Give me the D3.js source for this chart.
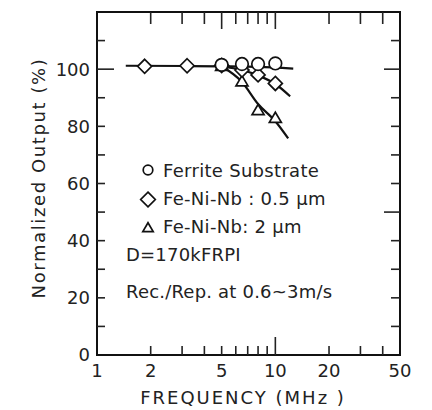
<!DOCTYPE html>
<html>
<head>
<meta charset="utf-8">
<script src="https://cdn.jsdelivr.net/npm/d3@7"></script>
<style>
	body { margin: 0; background: #fff; }
	svg { display: block; }
	.txt { font-family: "DejaVu Sans", sans-serif; fill: #222; }
</style>
</head>
<body>
<svg id="chart"></svg>
<script>
// values
const ferriteFreq = [5, 6.5, 8, 10];
const ferriteOut = [101.5, 101.8, 101.8, 102];
const thinFreq = [1.85, 3.2, 5, 6.5, 8, 10];
const thinOut = [101, 101.2, 101.3, 99.7, 98, 95];
const thickFreq = [5, 6.5, 8, 10];
const thickOut = [101, 95.6, 85.5, 82.8];

// hand drawn curves through the points
const ferriteFitFreq = [1.45, 3.2, 5, 8, 12.6];
const ferriteFitOut = [101.2, 101.1, 101, 100.8, 100.2];
const thinFitFreq = [5, 6.5, 8, 10, 12.1];
const thinFitOut = [101, 99.7, 97.8, 94.8, 90.5];
const thickFitFreq = [5, 6.5, 8, 10, 11.8];
const thickFitOut = [101, 95.5, 87.8, 81.8, 75.8];

const xTicks = [2, 3, 4, 5, 6, 7, 8, 9, 10, 20, 30, 40];
const xLabels = [1, 2, 5, 10, 20, 50];
const yTicks = [10, 20, 30, 40, 50, 60, 70, 80, 90, 100, 110];
const yLabels = [0, 20, 40, 60, 80, 100];

const legendRows = [
	{ mark: "circle", text: "Ferrite Substrate" },
	{ mark: "diamond", text: "Fe-Ni-Nb : 0.5 μm" },
	{ mark: "triangle", text: "Fe-Ni-Nb: 2 μm" }
];
const notes = ["D=170kFRPI", "Rec./Rep. at 0.6~3m/s"];

const width = 432;
const height = 410;
const plotL = 97, plotR = 400, plotT = 12, plotB = 355;

const x = d3.scaleLog().domain([1, 50]).range([plotL, plotR]);
const y = d3.scaleLinear().domain([0, 120]).range([plotB, plotT]);

const svg = d3.select("#chart")
	.attr("width", width)
	.attr("height", height);

function diamondPath(r) {
	return `M 0,${-r} L ${r},0 L 0,${r} L ${-r},0 Z`;
}
function trianglePath(r) {
	const h = r * 1.7;
	return `M 0,${-h * 0.6} L ${r},${h * 0.4} L ${-r},${h * 0.4} Z`;
}

// frame
svg.append("rect")
	.attr("x", plotL)
	.attr("y", plotT)
	.attr("width", plotR - plotL)
	.attr("height", plotB - plotT)
	.attr("fill", "none")
	.attr("stroke", "#111")
	.attr("stroke-width", 2);

// inward ticks on all four sides
const tickG = svg.append("g")
	.attr("stroke", "#222")
	.attr("stroke-width", 1.6);

tickG.selectAll(".xb")
	.data(xTicks)
	.enter()
	.append("line")
	.attr("x1", (d) => x(d))
	.attr("x2", (d) => x(d))
	.attr("y1", plotB)
	.attr("y2", (d) => plotB - (d === 10 ? 18 : 9));

tickG.selectAll(".xt")
	.data(xTicks)
	.enter()
	.append("line")
	.attr("x1", (d) => x(d))
	.attr("x2", (d) => x(d))
	.attr("y1", plotT)
	.attr("y2", (d) => plotT + (d === 5 || d === 10 ? 17 : 12));

tickG.selectAll(".yl")
	.data(yTicks)
	.enter()
	.append("line")
	.attr("x1", plotL)
	.attr("x2", (d) => plotL + (d === 100 ? 17 : 8))
	.attr("y1", (d) => y(d))
	.attr("y2", (d) => y(d));

tickG.selectAll(".yr")
	.data(yTicks)
	.enter()
	.append("line")
	.attr("x1", plotR)
	.attr("x2", (d) => plotR - (d === 100 || d === 50 ? 16 : 9))
	.attr("y1", (d) => y(d))
	.attr("y2", (d) => y(d));

// tick labels
svg.selectAll(".xlab")
	.data(xLabels)
	.enter()
	.append("text")
	.attr("class", "txt")
	.attr("x", (d) => x(d))
	.attr("y", 377)
	.attr("text-anchor", "middle")
	.attr("font-size", 18)
	.text((d) => d);

svg.selectAll(".ylab")
	.data(yLabels)
	.enter()
	.append("text")
	.attr("class", "txt")
	.attr("x", 90)
	.attr("y", (d) => y(d))
	.attr("dy", "0.36em")
	.attr("text-anchor", "end")
	.attr("font-size", 18)
	.text((d) => d);

// axis titles
svg.append("text")
	.attr("class", "txt")
	.attr("x", 243)
	.attr("y", 404)
	.attr("text-anchor", "middle")
	.attr("font-size", 18)
	.attr("letter-spacing", 2)
	.text("FREQUENCY (MHz )");

svg.append("text")
	.attr("class", "txt")
	.attr("transform", "translate(45,178) rotate(-90)")
	.attr("text-anchor", "middle")
	.attr("font-size", 18)
	.attr("letter-spacing", 1.6)
	.text("Normalized Output (%)");

// fitted curves
const line = d3.line()
	.x((d) => x(d[0]))
	.y((d) => y(d[1]))
	.curve(d3.curveMonotoneX);

const fits = [
	d3.zip(ferriteFitFreq, ferriteFitOut),
	d3.zip(thinFitFreq, thinFitOut),
	d3.zip(thickFitFreq, thickFitOut)
];
svg.selectAll(".fit")
	.data(fits)
	.enter()
	.append("path")
	.attr("d", line)
	.attr("fill", "none")
	.attr("stroke", "#111")
	.attr("stroke-width", 2.2);

// markers
function markers(freq, out, shape) {
	const g = svg.append("g");
	const pts = d3.zip(freq, out);
	const sel = g.selectAll("path")
		.data(pts)
		.enter()
		.append("path")
		.attr("transform", (d) => `translate(${x(d[0])},${y(d[1])})`)
		.attr("fill", "#fff")
		.attr("stroke", "#111")
		.attr("stroke-width", 1.7);
	if (shape === "circle") sel.attr("d", d3.symbol(d3.symbolCircle, Math.PI * 6.3 * 6.3));
	if (shape === "diamond") sel.attr("d", diamondPath(7));
	if (shape === "triangle") sel.attr("d", trianglePath(6));
}
markers(thickFreq, thickOut, "triangle");
markers(thinFreq, thinOut, "diamond");
markers(ferriteFreq, ferriteOut, "circle");

// legend
const legendY = [170, 199.5, 228];
const legend = svg.selectAll(".leg")
	.data(legendRows)
	.enter()
	.append("g")
	.attr("transform", (d, i) => `translate(148, ${legendY[i]})`);

legend.append("path")
	.attr("d", (d) => d.mark === "circle" ? d3.symbol(d3.symbolCircle, Math.PI * 4.8 * 4.8)()
		: d.mark === "diamond" ? diamondPath(7.3)
		: trianglePath(5.2))
	.attr("fill", "none")
	.attr("stroke", "#111")
	.attr("stroke-width", 1.7);

legend.append("text")
	.attr("class", "txt")
	.attr("x", 15)
	.attr("y", (d, i) => [177, 205, 233][i] - legendY[i])
	.attr("font-size", 18)
	.attr("letter-spacing", 0.3)
	.text((d) => d.text);

svg.selectAll(".note")
	.data(notes)
	.enter()
	.append("text")
	.attr("class", "txt")
	.attr("x", 126)
	.attr("y", (d, i) => 261 + i * 37)
	.attr("font-size", 18)
	.attr("letter-spacing", 0.2)
	.text((d) => d);
</script>
</body>
</html>
